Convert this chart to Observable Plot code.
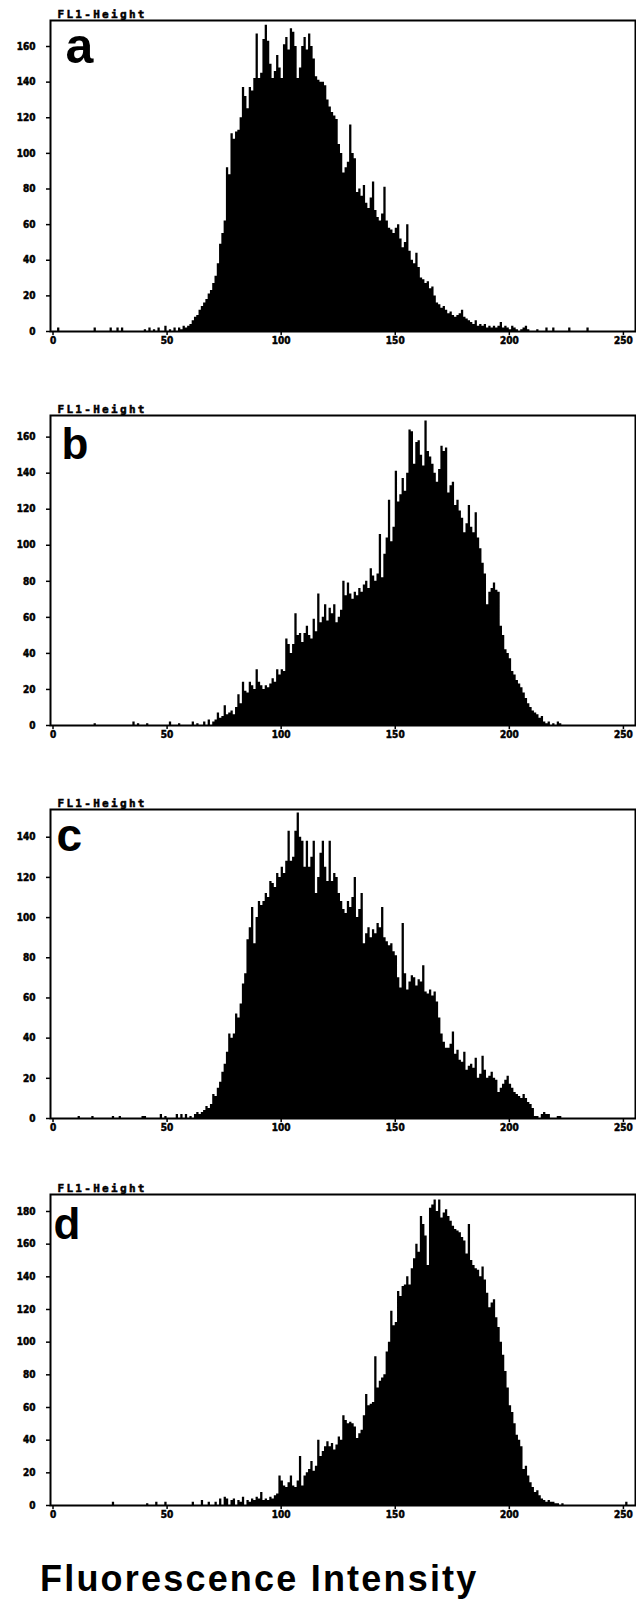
<!DOCTYPE html>
<html>
<head>
<meta charset="utf-8">
<script src="https://cdn.jsdelivr.net/npm/d3@7"></script>
<script src="https://cdn.jsdelivr.net/npm/@observablehq/plot@0.6"></script>
<style>
  body { margin: 0; background: #fff; }
  #chart svg { display: block; }
  #xlabel {
    font-family: "Liberation Sans", Arial, sans-serif;
    font-weight: bold; font-size: 36px; line-height: 36px; letter-spacing: 2.2px;
    margin-left: 40px; height: 39px; color: #000; white-space: nowrap;
  }
</style>
</head>
<body>
<div id="chart"></div>
<div id="xlabel"></div>
<script>
// ---------- data (counts per channel) ----------
const xTicks = [0, 50, 100, 150, 200, 250];
const yTicksA = [0, 20, 40, 60, 80, 100, 120, 140, 160];
const yTicksB = [0, 20, 40, 60, 80, 100, 120, 140, 160];
const yTicksC = [0, 20, 40, 60, 80, 100, 120, 140];
const yTicksD = [0, 20, 40, 60, 80, 100, 120, 140, 160, 180];
const panelLetters = ["a", "b", "c", "d"];
const detectorLabel = "FL1-Height";
const axisTitle = "Fluorescence Intensity";

// panel a: first channel of the main body, then its counts
const startA = 55;
const countsA = [
  2,1,3,2,3,4,6,8,9,12,
  14,16,18,21,23,27,31,38,49,55,
  62,92,88,111,108,112,113,120,137,132,
  125,137,135,142,167,142,145,164,172,163,
  150,142,146,155,148,142,161,165,158,170,
  168,160,142,148,160,165,158,167,160,153,
  143,141,140,140,138,130,126,123,121,119,
  105,100,89,92,95,116,100,97,78,80,
  76,82,72,69,75,84,68,64,62,66,
  81,62,58,57,55,58,60,52,47,50,
  60,45,40,38,44,36,30,29,27,28,
  24,25,20,16,15,13,14,12,10,11,
  9,8,9,10,12,8,7,6,5,4,
  6,3,4,3,4,2,3,2,3,2,
  3,5,2,3,2,1,3,2,1,0,
  1,2,3,1
];
const sparseA = [[2,2],[18,2],[25,2],[28,2],[30,2],[40,1],[42,2],[44,1],[46,2],[49,3],[51,1],[53,2],
  [212,1],[216,2],[219,2],[226,2],[234,2]];

// panel b
const startB = 71;
const countsB = [
  3,7,4,5,11,6,7,8,6,10,
  17,12,24,19,18,24,22,20,31,24,
  22,20,22,21,23,26,24,31,28,31,
  30,48,45,40,45,62,50,51,46,51,
  55,50,48,59,52,73,57,60,67,58,
  65,62,67,57,60,64,80,72,79,73,
  70,74,72,76,74,78,80,76,87,83,
  80,84,106,82,95,104,125,102,110,141,
  124,128,137,130,140,164,163,145,157,158,
  150,144,169,152,149,145,140,135,142,155,
  152,154,129,133,135,122,125,119,115,107,
  112,122,110,107,118,104,98,90,84,67,
  74,76,79,75,74,55,50,42,40,37,
  30,28,25,23,21,18,15,12,10,8,
  7,6,4,5,2,1,2
];
const sparseB = [[18,1],[35,2],[37,1],[41,1],[51,2],[55,1],[61,2],[63,1],[66,2],[68,3],[70,2],
  [219,1],[221,2],[222,1]];

// panel c
const startC = 62;
const countsC = [
  2,3,2,3,4,6,5,7,12,11,
  15,18,23,27,33,42,40,42,52,50,
  57,67,72,89,95,105,87,100,108,106,
  108,112,110,118,117,115,122,120,125,122,
  128,143,128,130,143,152,140,138,125,138,
  125,130,138,112,120,132,138,125,118,138,
  118,122,120,112,108,104,102,108,105,110,
  120,100,104,112,87,92,95,90,94,92,
  97,95,105,90,88,86,87,83,81,70,
  65,97,72,64,68,71,70,66,69,68,
  76,63,62,64,61,63,58,50,42,38,
  35,35,37,43,32,34,29,28,33,24,
  26,27,25,30,20,22,31,24,20,21,
  23,20,19,13,15,17,19,21,17,15,
  13,12,11,10,12,10,8,7,5,1,
  1,0,2,3,2,2
];
const sparseC = [[11,1],[17,1],[26,1],[29,1],[39,1],[40,1],[47,2],[49,1],[54,2],[56,2],[58,2],[60,1],
  [221,1],[222,1]];

// panel d
const startD = 73;
const countsD = [
  4,0,5,4,0,3,4,0,3,2,
  5,0,3,2,4,3,5,4,8,3,
  4,3,5,4,6,7,18,15,12,11,
  14,18,12,11,15,30,12,18,20,22,
  27,21,24,40,30,33,36,39,36,38,
  34,37,42,40,55,52,50,51,50,48,
  41,44,46,55,68,61,62,63,91,72,
  76,78,80,94,100,119,110,112,131,128,
  134,135,140,135,145,151,160,155,177,172,
  165,147,182,184,187,180,187,176,179,181,
  177,174,171,169,168,167,164,162,154,172,
  150,147,145,144,140,146,138,130,121,124,
  126,115,109,100,92,82,72,61,57,50,
  43,40,36,22,24,18,14,11,8,9,
  6,4,3,2,3,2,2,1,1
];
const sparseD = [[26,2],[41,1],[45,2],[49,2],[61,2],[65,3],[68,2],[71,2],[223,1],[251,2]];

// ---------- layout ----------
const panels = [
  {letter: panelLetters[0], start: startA, counts: countsA, sparse: sparseA, yTicks: yTicksA, yMax: 174.6, height: 395, mb: 64, ldx: 15, ldy: 42, lsize: 50},
  {letter: panelLetters[1], start: startB, counts: countsB, sparse: sparseB, yTicks: yTicksB, yMax: 172,   height: 394, mb: 64, ldx: 11, ldy: 43, lsize: 44},
  {letter: panelLetters[2], start: startC, counts: countsC, sparse: sparseC, yTicks: yTicksC, yMax: 153.8, height: 385, mb: 56, ldx: 6,  ldy: 41, lsize: 46},
  {letter: panelLetters[3], start: startD, counts: countsD, sparse: sparseD, yTicks: yTicksD, yMax: 190.4, height: 387, mb: 56, ldx: 3,  ldy: 44, lsize: 44}
];

function channels(start, counts, sparse) {
  const n = new Array(257).fill(0);
  counts.forEach((v, i) => { n[start + i] = v; });
  sparse.forEach(([c, v]) => { n[c] = v; });
  return n.map((v, ch) => ({ch, n: v}));
}

const tickFont = "'DejaVu Sans Condensed', 'DejaVu Sans', sans-serif";
const root = document.getElementById("chart");
for (const p of panels) {
  const data = channels(p.start, p.counts, p.sparse);
  const svg = Plot.plot({
    width: 636,
    height: p.height,
    marginTop: 20,
    marginLeft: 50,
    marginRight: 1,
    marginBottom: p.mb,
    style: {fontFamily: "'DejaVu Sans', sans-serif", background: "#fff", color: "#000"},
    x: {domain: [-1.1, 255.3], label: null},
    y: {domain: [0, p.yMax], label: null},
    marks: [
      Plot.areaY(data, {x: "ch", y: "n", curve: "step-after", fill: "#000"}),
      Plot.axisX({ticks: xTicks, tickSize: 4, tickPadding: 1, fontSize: 10, fontWeight: "bold", fontFamily: tickFont, strokeWidth: 1.5, label: null}),
      Plot.axisY({ticks: p.yTicks, tickSize: 4, tickPadding: 11, fontSize: 10, fontWeight: "bold", fontFamily: tickFont, strokeWidth: 1.5, label: null}),
      Plot.frame({stroke: "#000", strokeWidth: 2}),
      Plot.text([detectorLabel], {text: d => d, frameAnchor: "top-left", dx: 7, dy: -3, lineAnchor: "bottom", textAnchor: "start",
        fontSize: 11, fontWeight: "bold", fontFamily: "'DejaVu Sans Mono', monospace"}),
      Plot.text([p.letter], {text: d => d, frameAnchor: "top-left", dx: p.ldx, dy: p.ldy, lineAnchor: "bottom", textAnchor: "start",
        fontSize: p.lsize, fontWeight: "bold", fontFamily: "'Liberation Sans', Arial, sans-serif"})
    ]
  });
  svg.querySelectorAll("text").forEach(t => {
    if (t.textContent === detectorLabel) {
      t.style.letterSpacing = "2.3px";
      t.style.stroke = "#000";
      t.style.strokeWidth = "0.5px";
    }
  });
  svg.querySelectorAll('g[aria-label$="tick label"] text').forEach(t => {
    t.style.stroke = "#000";
    t.style.strokeWidth = "0.5px";
  });
  root.appendChild(svg);
}
document.getElementById("xlabel").textContent = axisTitle;
</script>
</body>
</html>
